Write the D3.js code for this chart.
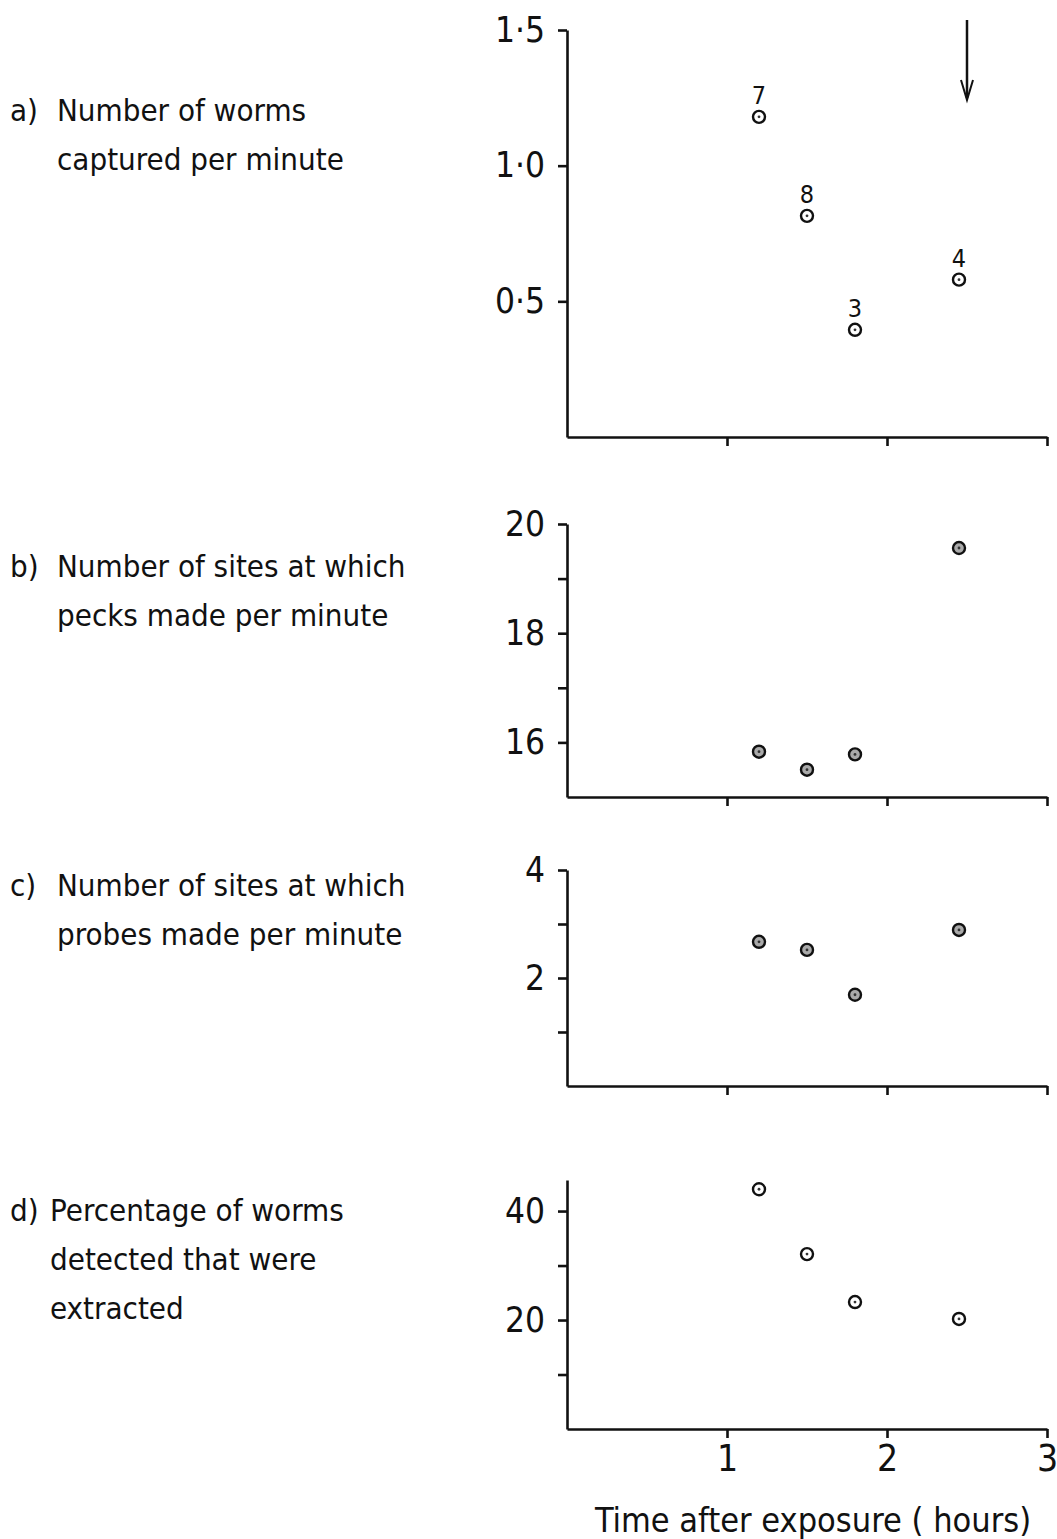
<!DOCTYPE html>
<html>
<head>
  <meta charset="utf-8">
  <script src="https://d3js.org/d3.v7.min.js"></script>
  <style>
    body { margin: 0; background: #fff; }
    svg { display: block; }
    text { font-family: "DejaVu Sans Condensed", "Liberation Sans Narrow", sans-serif; fill: #111; }
    .axis path, .axis line { stroke: #111; stroke-width: 2.6; }
  </style>
</head>
<body>
  <div id="chart"></div>
  <script>
    // 数据
    var times = [1.2, 1.5, 1.8, 2.45];
    var wormsCaptured = [1.18, 0.815, 0.395, 0.58];
    var wormCounts = ["7", "8", "3", "4"];
    var pecksSites = [15.83, 15.5, 15.78, 19.56];
    var probesSites = [2.67, 2.52, 1.69, 2.89];
    var pctExtracted = [44.0, 32.1, 23.3, 20.2];
    var arrowTime = 2.5;
    var xTicks = [1, 2, 3];
    var xTitle = "Time after exposure ( hours)";

    var width = 1057, height = 1539;
    var fontFam = '"DejaVu Sans Condensed", "Liberation Sans Narrow", sans-serif';

    var svg = d3.select("#chart")
      .append("svg")
      .attr("width", width)
      .attr("height", height);

    var x = d3.scaleLinear().domain([0, 3]).range([567, 1047]);

    // 四个小图
    var panels = [
      { tag: "a)", label: ["Number of worms", "captured per minute"], labelY: 121,
        values: wormsCaptured, domain: [0, 1.5], range: [437, 30],
        ticks: [0.5, 1.0, 1.5], labels: [0.5, 1.0, 1.5], fmt: function (d) { return d3.format(".1f")(d).replace(".", "\u00b7"); },
        fill: "#fff" },
      { tag: "b)", label: ["Number of sites at which", "pecks made per minute"], labelY: 577,
        values: pecksSites, domain: [15, 20], range: [797, 524],
        ticks: [16, 17, 18, 19, 20], labels: [16, 18, 20], fmt: d3.format("d"),
        fill: "#aaa" },
      { tag: "c)", label: ["Number of sites at which", "probes made per minute"], labelY: 896,
        values: probesSites, domain: [0, 4], range: [1086, 870],
        ticks: [1, 2, 3, 4], labels: [2, 4], fmt: d3.format("d"),
        fill: "#aaa" },
      { tag: "d)", label: ["Percentage of worms", "detected that were", "extracted"], labelY: 1221,
        values: pctExtracted, domain: [0, 45.7], range: [1429, 1180],
        ticks: [10, 20, 30, 40], labels: [20, 40], fmt: d3.format("d"),
        fill: "#fff" }
    ];

    panels.forEach(function (p, k) {
      var y = d3.scaleLinear().domain(p.domain).range(p.range);
      var g = svg.append("g");

      // 左侧说明文字
      g.append("text")
        .attr("x", 10)
        .attr("y", p.labelY)
        .attr("font-size", 31)
        .text(p.tag);
      g.selectAll(".lbl")
        .data(p.label)
        .enter()
        .append("text")
        .attr("x", k == 3 ? 50 : 57)
        .attr("y", function (d, i) { return p.labelY + i * 49; })
        .attr("font-size", 31)
        .text(function (d) { return d; });

      // y 轴
      var yAxis = d3.axisLeft(y)
        .tickValues(p.ticks)
        .tickSize(9)
        .tickSizeOuter(0)
        .tickFormat(function (d) { return p.labels.indexOf(d) >= 0 ? p.fmt(d) : ""; });
      var ya = g.append("g")
        .attr("class", "axis")
        .attr("transform", "translate(" + x(0) + ",0)")
        .call(yAxis);
      ya.selectAll("text")
        .attr("font-size", 35)
        .attr("x", -22)
        .style("font-family", fontFam)
        .attr("fill", "#111");

      // x 轴
      var xAxis = d3.axisBottom(x)
        .tickValues(xTicks)
        .tickSize(9)
        .tickSizeOuter(0)
        .tickFormat(k == 3 ? d3.format("d") : function () { return ""; });
      var xa = g.append("g")
        .attr("class", "axis")
        .attr("transform", "translate(0," + y(p.domain[0]) + ")")
        .call(xAxis);
      xa.selectAll("text")
        .attr("font-size", 37)
        .attr("y", 16)
        .style("font-family", fontFam)
        .attr("fill", "#111");

      // 数据点
      g.selectAll(".pt")
        .data(p.values)
        .enter()
        .append("circle")
        .attr("cx", function (d, i) { return x(times[i]); })
        .attr("cy", function (d) { return y(d); })
        .attr("r", 6)
        .attr("fill", p.fill)
        .attr("stroke", "#111")
        .attr("stroke-width", 2.4);

      g.selectAll(".dot")
        .data(p.values)
        .enter()
        .append("circle")
        .attr("cx", function (d, i) { return x(times[i]); })
        .attr("cy", function (d) { return y(d); })
        .attr("r", 1.4)
        .attr("fill", "#333");

      if (k == 0) {
        // 点上的数字
        g.selectAll(".cnt")
          .data(p.values)
          .enter()
          .append("text")
          .attr("x", function (d, i) { return x(times[i]); })
          .attr("y", function (d) { return y(d) - 13; })
          .attr("text-anchor", "middle")
          .attr("font-size", 25)
          .text(function (d, i) { return wormCounts[i]; });

        // 箭头
        var ax = x(arrowTime);
        g.append("line")
          .attr("x1", ax).attr("y1", 20)
          .attr("x2", ax).attr("y2", 98)
          .attr("stroke", "#111").attr("stroke-width", 2.5);
        g.append("path")
          .attr("d", "M" + (ax - 6) + ",80 L" + ax + ",100 L" + (ax + 6) + ",80")
          .attr("fill", "none")
          .attr("stroke", "#111").attr("stroke-width", 2);
      }
    });

    // x 轴标题
    svg.append("text")
      .attr("x", 813)
      .attr("y", 1532)
      .attr("text-anchor", "middle")
      .attr("font-size", 34)
      .attr("xml:space", "preserve")
      .text(xTitle);
  </script>
</body>
</html>
